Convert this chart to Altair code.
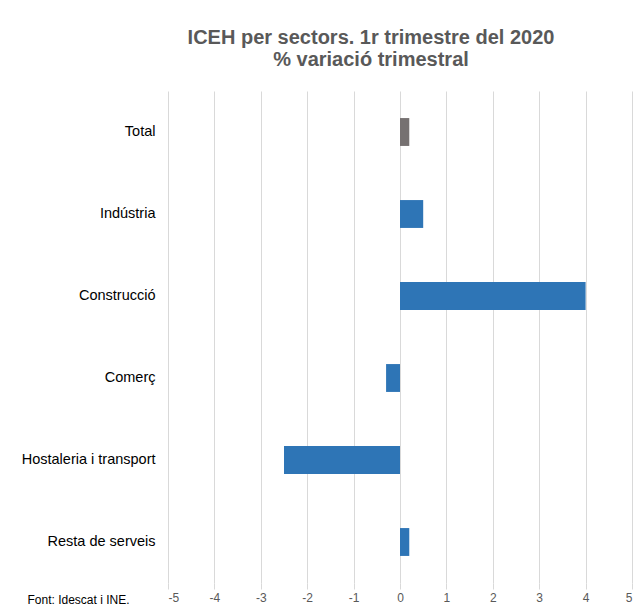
import altair as alt
import pandas as pd

categories = ["Total", "Indústria", "Construcció", "Comerç", "Hostaleria i transport", "Resta de serveis"]
values = [0.2, 0.5, 4.0, -0.3, -2.5, 0.2]
groups = ["total", "sector", "sector", "sector", "sector", "sector"]
x_ticks = [-5, -4, -3, -2, -1, 0, 1, 2, 3, 4, 5]

df = pd.DataFrame({"sector": categories, "valor": values, "grup": groups})

chart = alt.Chart(df).mark_bar().encode(
    x=alt.X("valor:Q",
            scale=alt.Scale(domain=[-5, 5], nice=False),
            axis=alt.Axis(values=x_ticks, title="Font: Idescat i INE.",
                          labelExpr="datum.value < 0 ? '-' + abs(datum.value) : '' + datum.value",
                          titleX=-141, titleY=16, titleAlign="left", titleBaseline="middle",
                          titleFontWeight="normal", titleFontSize=12, titleColor="#000000",
                          titleFont="Liberation Sans Narrow, Liberation Sans",
                          domain=False, tickColor="#d9d9d9", tickSize=6,
                          gridColor="#d9d9d9", labelColor="#595959", labelFontSize=12,
                          labelFont="Liberation Sans Narrow, Liberation Sans", labelPadding=3)),
    y=alt.Y("sector:N", sort=categories,
            scale=alt.Scale(paddingInner=0.66, paddingOuter=0.33),
            axis=alt.Axis(title=None, ticks=False, domain=False, labelPadding=13,
                          labelFontSize=14.5, labelColor="#000000", labelFont="Liberation Sans")),
    color=alt.Color("grup:N", scale=alt.Scale(domain=["total", "sector"], range=["#767171", "#2E75B6"]),
                    legend=None),
).properties(
    width=464, height=492,
    title=alt.Title(["ICEH per sectors. 1r trimestre del 2020", "% variació trimestral"],
                    fontSize=20, font="Liberation Sans", fontWeight="bold", color="#595959",
                    anchor="middle", dx=-29, offset=21, lineHeight=22),
    autosize=alt.AutoSizeParams(type="none"),
    padding={"left": 160, "top": 83, "right": 3, "bottom": 23},
).configure_view(stroke=None)

chart.save("out.html", embed_options={"renderer": "svg", "actions": False})
